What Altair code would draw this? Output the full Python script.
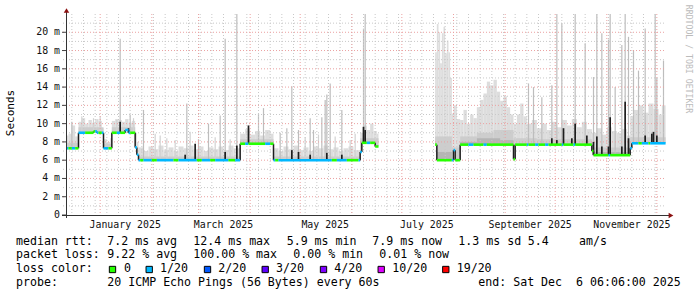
import altair as alt
import pandas as pd

# ------------------------------------------------------------------ data
# median rtt (ms), step changes; None = no data from that date
med_dates = ["2024-12-11", "2024-12-19", "2024-12-28", "2024-12-30", "2025-01-03", "2025-01-08",
             "2025-01-16", "2025-01-18", "2025-01-22", "2025-01-23", "2025-01-24", "2025-03-26",
             "2025-04-15", "2025-06-06", "2025-06-07", "2025-06-15", "2025-06-17", "2025-07-21",
             "2025-07-22", "2025-08-01", "2025-08-02", "2025-08-05", "2025-09-06", "2025-09-07",
             "2025-10-23", "2025-10-24", "2025-11-15", "2025-11-16"]
med_vals = [7.3, 9.0, 9.15, 9.0, 7.3, 9.0, 9.3, 9.0, 7.4, 6.6, 6.0, 7.8,
            6.0, 6.9, 7.9, 7.5, None, 7.7, 6.0, 7.1, 6.0, 7.7, 6.1, 7.7,
            7.0, 6.55, 7.3, 7.85]
END = "2025-12-06T06:06:00"

# packet loss colour of the median line (changes)
loss_dates = ["2024-12-11", "2024-12-13", "2024-12-15", "2024-12-17", "2024-12-19", "2024-12-23",
              "2024-12-29", "2024-12-31", "2025-01-02", "2025-01-06", "2025-01-11", "2025-01-13",
              "2025-01-16", "2025-01-19", "2025-01-22", "2025-01-25", "2025-01-27", "2025-02-01",
              "2025-02-04", "2025-02-14", "2025-02-17", "2025-02-28", "2025-03-03", "2025-03-08",
              "2025-03-11", "2025-03-19", "2025-03-23", "2025-03-26", "2025-03-29", "2025-03-31",
              "2025-04-10", "2025-04-13", "2025-04-15", "2025-04-16", "2025-04-18", "2025-05-20",
              "2025-05-23", "2025-05-29", "2025-06-05", "2025-06-07", "2025-06-10", "2025-06-12",
              "2025-07-31", "2025-08-02", "2025-08-10", "2025-08-13", "2025-08-19", "2025-08-21",
              "2025-09-14", "2025-09-15", "2025-09-19", "2025-09-21", "2025-09-25", "2025-09-27",
              "2025-10-05", "2025-10-06", "2025-10-12", "2025-10-13", "2025-11-02", "2025-11-03",
              "2025-11-15", "2025-11-20", "2025-11-22", "2025-11-26", "2025-11-27"]
loss_vals = ["1/20", "0", "1/20", "0", "1/20", "0",
             "1/20", "0", "1/20", "0", "1/20", "0",
             "1/20", "0", "1/20", "0", "1/20", "0",
             "1/20", "0", "1/20", "0", "1/20", "0",
             "1/20", "0", "1/20", "0", "1/20", "0",
             "1/20", "0", "1/20", "0", "1/20", "0",
             "1/20", "0", "1/20", "0", "1/20", "0",
             "1/20", "0", "1/20", "0", "1/20", "0",
             "1/20", "0", "1/20", "0", "1/20", "0",
             "1/20", "0", "1/20", "0", "1/20", "0",
             "1/20", "0", "1/20", "0", "1/20"]

# smoke: top of the light grey band (ms) from each date until the next
smoke_dates = [
    "2024-12-11", "2024-12-13", "2024-12-15", "2024-12-17",
    "2024-12-19", "2024-12-21", "2024-12-23", "2024-12-25", "2024-12-27", "2024-12-29", "2024-12-31", "2025-01-02",
    "2025-01-03", "2025-01-05", "2025-01-07",
    "2025-01-08", "2025-01-10", "2025-01-12", "2025-01-14", "2025-01-16", "2025-01-18", "2025-01-20",
    "2025-01-22", "2025-01-23",
    "2025-01-24", "2025-01-27", "2025-01-30", "2025-02-02", "2025-02-05", "2025-02-08", "2025-02-11",
    "2025-02-14", "2025-02-17", "2025-02-20", "2025-02-23", "2025-02-26", "2025-03-01", "2025-03-04",
    "2025-03-07", "2025-03-10", "2025-03-13", "2025-03-16", "2025-03-19", "2025-03-22",
    "2025-03-26", "2025-03-29", "2025-04-01", "2025-04-04", "2025-04-07", "2025-04-10", "2025-04-13",
    "2025-04-15", "2025-04-18", "2025-04-21", "2025-04-24", "2025-04-27", "2025-04-30", "2025-05-03",
    "2025-05-06", "2025-05-09", "2025-05-12", "2025-05-15", "2025-05-18", "2025-05-21", "2025-05-24",
    "2025-05-27", "2025-05-30", "2025-06-02",
    "2025-06-06", "2025-06-08", "2025-06-10", "2025-06-12", "2025-06-14", "2025-06-16",
    "2025-06-17",
    "2025-07-21", "2025-07-22", "2025-07-23", "2025-07-24", "2025-07-25", "2025-07-26", "2025-07-27",
    "2025-07-28", "2025-07-29", "2025-07-30", "2025-07-31", "2025-08-01", "2025-08-03",
    "2025-08-05", "2025-08-07", "2025-08-09", "2025-08-11", "2025-08-13", "2025-08-15", "2025-08-17",
    "2025-08-19", "2025-08-21", "2025-08-23", "2025-08-25", "2025-08-27", "2025-08-29", "2025-08-31",
    "2025-09-02", "2025-09-04",
    "2025-09-06", "2025-09-08", "2025-09-10", "2025-09-12", "2025-09-14", "2025-09-17", "2025-09-20",
    "2025-09-23", "2025-09-26", "2025-09-29", "2025-10-02", "2025-10-05", "2025-10-08", "2025-10-11",
    "2025-10-14", "2025-10-17", "2025-10-20",
    "2025-10-23", "2025-10-26", "2025-10-29", "2025-11-01", "2025-11-04", "2025-11-07", "2025-11-10",
    "2025-11-13",
    "2025-11-15", "2025-11-17", "2025-11-20", "2025-11-23", "2025-11-26", "2025-11-29", "2025-12-02",
    "2025-12-04"]
smoke_top = [
    8.7, 8.9, 9.8, 8.6,
    10.2, 10.6, 10.0, 10.4, 10.1, 10.5, 10.3, 9.5,
    8.3, 8.0, 8.4,
    10.3, 10.5, 10.4, 10.2, 10.5, 10.1, 10.3,
    9.0, 8.0,
    7.4, 7.0, 7.5, 7.2, 7.6, 7.1, 7.4,
    7.0, 7.5, 7.3, 7.6, 7.2, 7.5, 7.0,
    7.4, 7.2, 7.5, 7.1, 7.6, 7.3,
    8.9, 9.4, 8.8, 9.2, 8.7, 9.3, 8.9,
    7.3, 7.0, 7.5, 7.2, 7.6, 7.1, 7.4,
    7.0, 7.5, 7.3, 7.6, 7.2, 7.4, 7.0,
    7.3, 7.5, 7.1,
    9.0, 9.8, 9.3, 10.0, 9.2, 8.9,
    None,
    17.8, 20.9, 20.0, 16.6, 19.9, 20.6, 17.7,
    19.1, 17.8, 15.0, 11.1, 12.0, 10.5,
    10.4, 11.5, 10.0, 11.0, 10.6, 11.8, 12.6,
    13.3, 14.6, 14.2, 14.8, 13.5, 12.5, 13.0,
    11.8, 11.0,
    10.0, 11.0, 12.2, 10.8, 10.0, 10.4, 9.5,
    10.0, 9.3, 10.2, 9.6, 10.4, 9.8, 10.5,
    9.6, 10.2, 9.4,
    9.0, 9.5, 8.8, 9.6, 9.2, 9.0, 9.4,
    8.7,
    10.8, 11.5, 12.0, 11.2, 12.2, 11.6, 11.0,
    12.0]

# medium grey (inner smoke) top
mid_dates = ["2024-12-11", "2024-12-19", "2025-01-03", "2025-01-08", "2025-01-22", "2025-01-24",
             "2025-03-26", "2025-04-15", "2025-06-06", "2025-06-17", "2025-07-21", "2025-07-31",
             "2025-08-05", "2025-08-15", "2025-08-25", "2025-09-06", "2025-09-20", "2025-10-23",
             "2025-11-15"]
mid_top = [7.9, 9.6, 7.8, 9.6, None, 6.4, 8.3, 6.4, 8.4, None, 8.6, 7.4,
           8.6, 9.0, 9.3, 8.4, 8.3, 7.4, 8.5]

# dark grey (innermost smoke) top
dark_dates = ["2025-07-21", "2025-07-31", "2025-08-05", "2025-08-15", "2025-08-29", "2025-09-06",
              "2025-10-23", "2025-11-15"]
dark_top = [6.9, None, 8.0, 8.4, 8.2, None, 6.9, None]

# thin grey smoke spikes (top in ms)
spike_dates = ["2024-12-15", "2025-01-13", "2025-01-19", "2025-01-27", "2025-02-22", "2025-03-01",
               "2025-03-07", "2025-03-14", "2025-03-17", "2025-03-24", "2025-04-06", "2025-04-09",
               "2025-04-19", "2025-04-23", "2025-04-26", "2025-04-30", "2025-05-07", "2025-05-09",
               "2025-05-14", "2025-05-16", "2025-05-17", "2025-05-19", "2025-05-26", "2025-06-08",
               "2025-06-09", "2025-09-15", "2025-09-18", "2025-09-23", "2025-09-29", "2025-10-02",
               "2025-10-05", "2025-10-13", "2025-10-19", "2025-10-24", "2025-10-26", "2025-10-29",
               "2025-11-02", "2025-11-03", "2025-11-06", "2025-11-10", "2025-11-12", "2025-11-14",
               "2025-11-17", "2025-11-20", "2025-11-24", "2025-11-30", "2025-12-01", "2025-12-05"]
spike_top = [10.2, 19.3, 11.0, 11.5, 12.2, 8.3,
             10.0, 10.9, 19.3, 22.0, 11.1, 11.7,
             9.0, 9.5, 14.1, 9.3, 10.6, 9.3,
             10.7, 12.6, 13.2, 14.4, 11.5, 20.4,
             22.0, 14.4, 14.0, 12.9, 14.2, 22.0,
             21.0, 22.0, 18.8, 15.1, 22.0, 19.9,
             19.2, 22.0, 14.0, 18.6, 22.0, 19.5,
             18.0, 15.8, 20.4, 22.0, 15.0, 16.9]

# smaller, paler smoke spikes (top in ms)
small_dates = ["2024-12-21", "2024-12-28", "2025-01-01", "2025-01-11", "2025-01-21", "2025-02-03",
               "2025-02-06", "2025-02-10", "2025-02-15", "2025-02-24", "2025-03-11", "2025-03-20",
               "2025-05-04", "2025-05-12", "2025-05-22", "2025-05-31", "2025-06-03"]
small_top = [10.8, 10.6, 10.8, 10.4, 10.6, 8.9,
             8.7, 8.4, 8.2, 9.1, 8.5, 8.3,
             8.5, 8.8, 8.6, 8.2, 8.9]

# black median excursions (top in ms)
black_dates = ["2025-01-13", "2025-01-18", "2025-02-21", "2025-02-27", "2025-03-17", "2025-03-24",
               "2025-03-31", "2025-04-26", "2025-04-30", "2025-05-07", "2025-05-17", "2025-05-26",
               "2025-06-08", "2025-06-09", "2025-08-01", "2025-09-29", "2025-10-02", "2025-10-06",
               "2025-10-11", "2025-10-13", "2025-10-20", "2025-10-24", "2025-10-26", "2025-10-29",
               "2025-11-02", "2025-11-03", "2025-11-10", "2025-11-12", "2025-11-14", "2025-11-24",
               "2025-11-28", "2025-11-29", "2025-12-01"]
black_top = [10.2, 9.5, 6.6, 7.8, 6.9, 7.6,
             9.8, 7.1, 6.9, 6.6, 6.8, 6.6,
             9.65, 9.3, 7.1, 8.4, 8.2, 9.5,
             8.4, 10.0, 8.7, 8.0, 8.6, 7.5,
             7.5, 10.7, 7.5, 12.4, 8.4, 8.7,
             8.9, 9.1, 8.7]

# axes
y_label_vals = [0, 2, 4, 6, 8, 10, 12, 14, 16, 18, 20]
y_label_text = ["0  ", "2 m", "4 m", "6 m", "8 m", "10 m", "12 m", "14 m", "16 m", "18 m", "20 m"]
y_minor_vals = [1, 3, 5, 7, 9, 11, 13, 15, 17, 19, 21]
month_label_dates = ["2025-01-16", "2025-03-16", "2025-05-16", "2025-07-16", "2025-09-16", "2025-11-16"]
month_labels = ["January 2025", "March 2025", "May 2025", "July 2025", "September 2025", "November 2025"]

# legend
loss_labels = ["0", "1/20", "2/20", "3/20", "4/20", "10/20", "19/20"]
loss_colors = ["#26ff00", "#00b8ff", "#0059ff", "#5e00ff", "#7e00ff", "#dd00ff", "#ff0000"]
line1 = ["median rtt:", "7.2 ms avg", "12.4 ms max", "5.9 ms min", "7.9 ms now", "1.3 ms sd", "5.4", "am/s"]
line2 = ["packet loss:", "9.22 % avg", "100.00 % max", "0.00 % min", "0.01 % now"]
line4 = ["probe:", "20 ICMP Echo Pings (56 Bytes) every 60s", "end: Sat Dec  6 06:06:00 2025"]

# ------------------------------------------------------------------ layout
PL, PT, W, H = 66, 14, 600, 201
MONO = "DejaVu Sans Mono"
NB = "\u00a0"


def ms(s):
    return int(pd.Timestamp(s, tz="UTC").value // 10**6)


END_MS = ms(END)
med_ms = [ms(d) for d in med_dates]
loss_ms = [ms(d) for d in loss_dates]


def med_at(t):
    v = None
    for d, val in zip(med_ms, med_vals):
        if d <= t:
            v = val
        else:
            break
    return v


def loss_at(t):
    v = loss_vals[0]
    for d, l in zip(loss_ms, loss_vals):
        if d <= t:
            v = l
    return v


def blocks(dates, tops):
    """smoke blocks between consecutive dates, cut wherever the median steps"""
    b = [ms(d) for d in dates] + [END_MS]
    rows = []
    for i, top in enumerate(tops):
        if top is None:
            continue
        s, e = b[i], b[i + 1]
        cuts = [s] + [d for d in med_ms if s < d < e] + [e]
        for a, c in zip(cuts[:-1], cuts[1:]):
            base = med_at(a)
            if base is None or top <= base:
                continue
            rows.append(dict(t=a, t2=c, y=top, y2=base))
    return pd.DataFrame(rows)


def rules(dates, tops):
    return pd.DataFrame([dict(t=ms(d), y=med_at(ms(d)), y2=v) for d, v in zip(dates, tops)])


bounds = med_ms + [END_MS]
pieces, trans = [], []
for i, val in enumerate(med_vals):
    if val is None:
        continue
    s, e = bounds[i], bounds[i + 1]
    cuts = [s] + [d for d in loss_ms if s < d < e] + [e]
    for a, b in zip(cuts[:-1], cuts[1:]):
        pieces.append(dict(t=a, t2=b, v=val, loss=loss_at(a)))
    if i > 0 and med_vals[i - 1] is not None:
        trans.append(dict(t=s, lo=min(val, med_vals[i - 1]), hi=max(val, med_vals[i - 1])))
pieces = pd.DataFrame(pieces)
trans = pd.DataFrame(trans)

xs = alt.Scale(type="utc", domain=[ms("2024-12-11T12:00"), ms("2025-12-06T12:00")], nice=False)
ys = alt.Scale(domain=[0, 22], nice=False, zero=True)

one = pd.DataFrame({"a": [0]})
layers = []

# smoke
for df, col in [(blocks(smoke_dates, smoke_top), "#dddddd"),
                (blocks(mid_dates, mid_top), "#cdcdcd"),
                (blocks(dark_dates, dark_top), "#b5b5b5")]:
    layers.append(alt.Chart(df).mark_rect(color=col, clip=True).encode(
        x=alt.X("t:T", scale=xs, axis=None), x2="t2:T",
        y=alt.Y("y:Q", scale=ys, axis=None), y2="y2:Q"))

# thin grey spikes
for df, col, sw in [(rules(small_dates, small_top), "#d2d2d2", 1.2),
                    (rules(spike_dates, spike_top), "#bdbdbd", 1.2)]:
    layers.append(alt.Chart(df).mark_rule(color=col, strokeWidth=sw, clip=True).encode(
        x=alt.X("t:T", scale=xs, axis=None), y=alt.Y("y:Q", scale=ys, axis=None), y2="y2:Q"))

# grid
x_minor = [int(t.value // 10**6) for t in pd.date_range("2024-12-15", "2025-11-30", freq="7D", tz="UTC")]
x_major = [int(t.value // 10**6) for t in pd.date_range("2025-01-01", "2025-12-01", freq="MS", tz="UTC")]
for vals, col in [(x_minor, "#c8c8c8"), (x_major, "#eba0a0")]:
    layers.append(alt.Chart(pd.DataFrame({"t": vals})).mark_rule(color=col, strokeDash=[1, 2], strokeWidth=1).encode(
        x=alt.X("t:T", scale=xs, axis=None), y=alt.value(0), y2=alt.value(H + 3)))
for vals, col in [(y_minor_vals, "#c8c8c8"), (y_label_vals[1:], "#eba0a0")]:
    layers.append(alt.Chart(pd.DataFrame({"v": vals})).mark_rule(color=col, strokeDash=[1, 2], strokeWidth=1).encode(
        y=alt.Y("v:Q", scale=ys, axis=None), x=alt.value(-3), x2=alt.value(W)))

# black excursions and median
layers.append(alt.Chart(rules(black_dates, black_top)).mark_rule(color="#1e1e1e", strokeWidth=1.7, clip=True).encode(
    x=alt.X("t:T", scale=xs, axis=None), y=alt.Y("y:Q", scale=ys, axis=None), y2="y2:Q"))
layers.append(alt.Chart(trans).mark_rule(color="#1e1e1e", strokeWidth=1.5, clip=True).encode(
    x=alt.X("t:T", scale=xs, axis=None), y=alt.Y("lo:Q", scale=ys, axis=None), y2="hi:Q"))
layers.append(alt.Chart(pieces).mark_rule(strokeWidth=2.6, clip=True).encode(
    x=alt.X("t:T", scale=xs, axis=None), x2="t2:T",
    y=alt.Y("v:Q", scale=ys, axis=None),
    color=alt.Color("loss:N", scale=alt.Scale(domain=loss_labels[:2], range=loss_colors[:2]), legend=None)))

# axes: tick marks and labels through the scales
ylab = pd.DataFrame({"v": y_label_vals, "lab": [s.replace(" ", NB) for s in y_label_text]})
layers.append(alt.Chart(ylab).mark_rule(color="#444444", strokeWidth=1).encode(
    y=alt.Y("v:Q", scale=ys, axis=None), x=alt.value(-4), x2=alt.value(0)))
layers.append(alt.Chart(ylab).mark_text(font=MONO, fontSize=9.9, align="right", baseline="middle",
                                        color="#111111").encode(
    y=alt.Y("v:Q", scale=ys, axis=None), x=alt.value(-6), text="lab:N"))
xlab = pd.DataFrame({"t": [ms(d) for d in month_label_dates], "lab": month_labels})
layers.append(alt.Chart(xlab).mark_text(font=MONO, fontSize=9.9, align="center", baseline="middle",
                                        color="#111111").encode(
    x=alt.X("t:T", scale=xs, axis=None), y=alt.value(H + 9.5), text="lab:N"))

# axis lines and arrows
layers.append(alt.Chart(one).mark_rule(color="#333333", strokeWidth=1).encode(
    x=alt.value(0.5), y=alt.value(-4), y2=alt.value(H + 3)))
layers.append(alt.Chart(one).mark_rule(color="#333333", strokeWidth=1).encode(
    x=alt.value(-4), x2=alt.value(W + 4), y=alt.value(H + 0.5)))
layers.append(alt.Chart(one).mark_point(shape="triangle-up", filled=True, size=30, color="#8b1010", opacity=1).encode(
    x=alt.value(0.5), y=alt.value(-3.5)))
layers.append(alt.Chart(one).mark_point(shape="triangle-right", filled=True, size=30, color="#8b1010", opacity=1).encode(
    x=alt.value(W + 5), y=alt.value(H + 0.5)))


def txt(s, xa, ya, size=11.6, color="#000000", angle=0, align="left"):
    return alt.Chart(one).mark_text(text=s.replace(" ", NB), font=MONO, fontSize=size, align=align,
                                    baseline="middle", color=color, angle=angle).encode(
        x=alt.value(xa - PL), y=alt.value(ya - PT))


layers.append(txt("Seconds", 10.8, 113, size=11, angle=270, align="center"))
layers.append(txt("RRDTOOL / TOBI OETIKER", 688, 59, size=8.2, color="#bbbbbb", angle=90, align="center"))

for s, xa in zip(line1, [16, 107.3, 193.3, 286.7, 372.3, 458.3, 527.7, 579]):
    layers.append(txt(s, xa, 241.7))
for s, xa in zip(line2, [16, 107.3, 193.3, 293.3, 379.3]):
    layers.append(txt(s, xa, 255))
layers.append(txt("loss color:", 16, 269.3))
for lab, col, bx, tx in zip(loss_labels, loss_colors,
                            [112.5, 149.2, 207.5, 265.2, 323.5, 381.2, 445.8],
                            [124, 160, 218.3, 276, 334.3, 392.3, 456.7]):
    layers.append(alt.Chart(one).mark_square(size=40, fill=col, stroke="#000000", strokeWidth=1, opacity=1).encode(
        x=alt.value(bx - PL), y=alt.value(269.5 - PT)))
    layers.append(txt(lab, tx, 269.3))
for s, xa in zip(line4, [16, 107.3, 478.3]):
    layers.append(txt(s, xa, 282.7))

chart = alt.layer(*layers).properties(
    width=W, height=H,
    autosize=alt.AutoSizeParams(type="none"),
    padding={"left": PL, "top": PT, "right": 697 - PL - W, "bottom": 297 - PT - H},
    background="#ffffff",
).configure_view(stroke=None)

chart.save("out.html", embed_options={"renderer": "svg", "actions": False})
